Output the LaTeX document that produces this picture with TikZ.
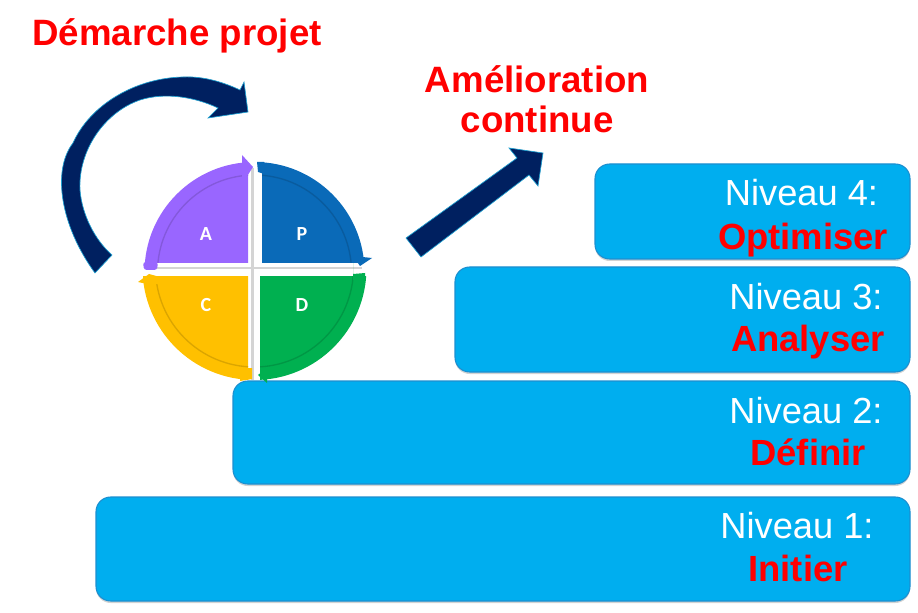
\documentclass[tikz,border=0pt]{standalone}
\usepackage{fontspec}
\setmainfont{Liberation Sans}
\newfontfamily\wheelfont{Carlito}
\usetikzlibrary{positioning,shadows}
\definecolor{navy}{HTML}{002060}
\definecolor{glow}{HTML}{1E9FD0}
\definecolor{levelblue}{HTML}{00AEEF}
\definecolor{leveledge}{HTML}{1C8FD0}
\definecolor{planblue}{HTML}{0A6AB8}
\definecolor{actviolet}{HTML}{9966FF}
\definecolor{checkyellow}{HTML}{FFC000}
\definecolor{dogreen}{HTML}{00B050}
\definecolor{gapgrey}{HTML}{D4D4D4}
\newcommand{\pxu}{.75pt}
\tikzset{
  level/.style={draw=leveledge,line width=.8pt,fill=levelblue,rounded corners=11pt,inner sep=0pt,
    drop shadow={shadow xshift=0pt,shadow yshift=-1.5pt,opacity=.35}},
  niveau/.style={anchor=base,inner sep=0pt,text=white,font=\fontsize{27.2}{30}\selectfont},
  verbe/.style={anchor=base,inner sep=0pt,text=red,font=\fontsize{27.3}{30}\selectfont\bfseries},
  titre/.style={anchor=base,inner sep=0pt,text=red,font=\fontsize{27.5}{30}\selectfont\bfseries},
  lettre/.style={inner sep=0pt,text=white,font=\fontsize{15}{18}\selectfont\wheelfont\bfseries},
  fleche/.style={fill=navy,draw=glow,line width=.5pt,line join=miter}
}

\begin{document}
\begin{tikzpicture}[x=.75pt,y=-.75pt]
\useasboundingbox (0,0) rectangle (918,613);
% levels
\node [level,minimum width=814*\pxu,minimum height=104*\pxu] (box1) at (503,549) {};
\node [level,minimum width=677*\pxu,minimum height=103*\pxu] (box2) at (571.5,432.5) {};
\node [level,minimum width=455*\pxu,minimum height=105*\pxu] (box3) at (682.5,319.5) {};
\node [level,minimum width=315*\pxu,minimum height=95*\pxu] (box4) at (752.5,211.5) {};
\node [niveau] (niveau4) at (801.5,206) {Niveau 4:};
\node [verbe] (verbe4) at (803,249) {Optimiser};
\node [niveau] (niveau3) at (806,309) {Niveau 3:};
\node [verbe] (verbe3) at (808,351) {Analyser};
\node [niveau] (niveau2) at (806,423) {Niveau 2:};
\node [verbe] (verbe2) at (808,465) {Définir};
\node [niveau] (niveau1) at (797,538) {Niveau 1:};
\node [verbe] (verbe1) at (798,581) {Initier};
% titles
\node [titre] (demarche) at (177,46) {Démarche projet};
\node [titre] (amelioration) at (537,92.5) {Amélioration};
\node [titre] (continue) at (537,132.5) {continue};
% wheel
\draw [gapgrey,line width=2.2pt] (252.5,168) -- (252.5,380);
\draw [gapgrey,line width=2.2pt] (146,268) -- (362,268);
\foreach \xa/\ya/\xb/\yb/\cy/\rad/\col in {262/160/368/263/272/110/planblue,143/160/248/263/272/110/actviolet,
  143/277/248/382/268/112/checkyellow,260/277/368/382/268/112/dogreen}{
  \begin{scope}
    \clip (\xa,\ya) rectangle (\xb,\yb);
    \fill [\col] (254.5,\cy) circle [radius=\rad];
    \draw [\col!86!black,line width=1pt] (254.5,\cy) circle [radius=\rad-13];
  \end{scope}
}
% bands running on to the heads
\fill [planblue] (257,162) -- (264,162) -- (264,174) -- (258,172) -- cycle;
\fill [actviolet,rounded corners=2pt] (143,262) -- (158,262) -- (157,270) -- (144,270) -- cycle;
\fill [dogreen] (353,263) -- (353,274) -- (365,273) -- (365,280) -- (353,280) -- cycle;
\fill [checkyellow] (240,368) -- (252,368) -- (252,379) -- (240,381) -- cycle;
\fill [planblue] (353,256) -- (372,258) -- (360,266) -- cycle;
\fill [actviolet] (242,155) -- (253,167) -- (242,184) -- cycle;
\fill [checkyellow] (149,274) -- (138,282) -- (147,284) -- (160,284) -- (160,277) -- cycle;
\fill [dogreen] (267,368) -- (258,375) -- (267,383) -- cycle;
\node [lettre] (lettreA) at (206,234) {A};
\node [lettre] (lettreP) at (302,234) {P};
\node [lettre] (lettreC) at (206,305) {C};
\node [lettre] (lettreD) at (302,305) {D};
% arrows
\draw [fleche] (95,273) .. controls (60,225) and (52,170) .. (73,143)
  .. controls (90,105) and (135,78) .. (183,77)
  .. controls (205,76) and (225,83) .. (240,90)
  -- (244,82) -- (248,112) -- (208,118) -- (218,108)
  .. controls (195,97) and (165,92) .. (140,100)
  .. controls (105,112) and (78,150) .. (80,190)
  .. controls (82,215) and (95,240) .. (112,255) -- cycle;
\draw [fleche] (406,238) -- (517,158) -- (509,148) -- (543,153) -- (538,186) -- (529,175) -- (421,257) -- cycle;
\end{tikzpicture}
\end{document}
